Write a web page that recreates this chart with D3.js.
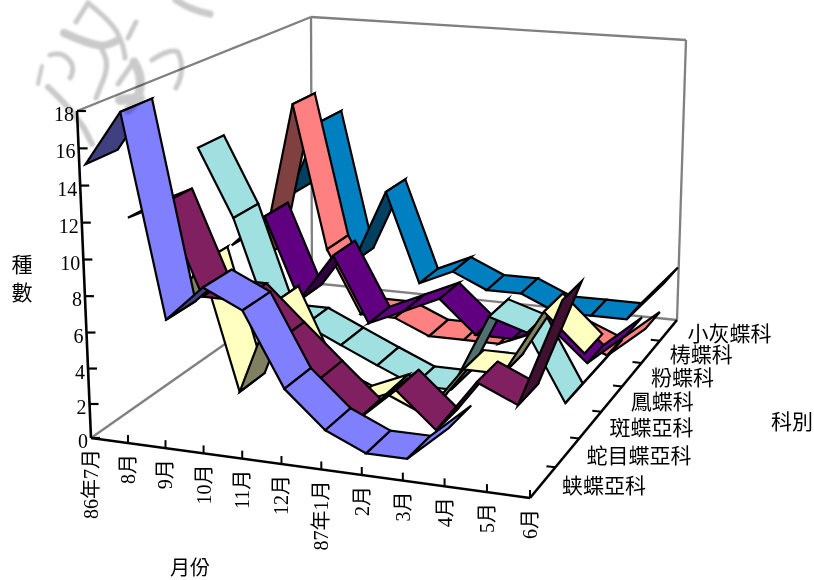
<!DOCTYPE html>
<html>
<head>
<meta charset="utf-8">
<script src="https://cdn.jsdelivr.net/npm/d3@7"></script>
<style>
  html, body { margin: 0; padding: 0; background: #fff; }
  svg { display: block; }
  text { fill: #000; font-family: "Liberation Serif", "Noto Sans CJK TC", serif; }
</style>
</head>
<body>
<svg id="chart" width="814" height="580"></svg>
<script>
// Butterfly species counted per month, one ribbon per family.
const months = ["86年7月","8月","9月","10月","11月","12月","87年1月","2月","3月","4月","5月","6月"];
const families = ["蛱蝶亞科","蛇目蝶亞科","斑蝶亞科","鳳蝶科","粉蝶科","梼蝶科","小灰蝶科"];
const yTicks = [0,2,4,6,8,10,12,14,16,18];

const nymphalinae = [15,18,7,9,8,4,2,1,1,3,null,null];
const satyrinae   = [11,12,7,7,5,3,1,3,1,4,3,9];
const danainae    = [4,7.5,0,5.6,1,0,1,0,3,3,6.8,4.7];
const papilionidae= [13,9,3,3,2,1,0,0,4.7,4,0,3];
const pieridae    = [6,8,3,6,2,3,4,2,2,3,1,3];
const family6     = [4,14,5,1,1,0,0,0,1,1,0,2];
const lycaenidae  = [7,12,3,7.8,2,3,2,2,1,1,1,3.6];
const seriesValues = [nymphalinae,satyrinae,danainae,papilionidae,pieridae,family6,lycaenidae];

const topColors   = ["#8080ff","#802060","#ffffc0","#a0e0e0","#600080","#ff8080","#0080c0"];
const underColors = ["#404080","#401030","#808060","#507070","#300040","#804040","#004060"];

const svg = d3.select("#chart");

// Box corners on screen: floor and ceiling, ordered front-left, front-right, back-right, back-left.
const floorQuad   = [[91,438],[530,498],[677,320],[312,283]];
const ceilingQuad = [[77,111],[535,154],[686,40],[311,17]];

// Projective map from the unit square onto a screen quadrilateral.
function quadMap(q) {
  const [[x0,y0],[x1,y1],[x2,y2],[x3,y3]] = q;
  const dx1=x1-x2, dx2=x3-x2, sx=x0-x1+x2-x3;
  const dy1=y1-y2, dy2=y3-y2, sy=y0-y1+y2-y3;
  const den=dx1*dy2-dx2*dy1;
  const g=(sx*dy2-dx2*sy)/den, h=(dx1*sy-sx*dy1)/den;
  const a=x1-x0+g*x1, b=x3-x0+h*x3, d=y1-y0+g*y1, e=y3-y0+h*y3;
  return (u,w) => {
    const k=g*u+h*w+1;
    return [(a*u+b*w+x0)/k,(d*u+e*w+y0)/k];
  };
}
const onFloor = quadMap(floorQuad), onCeiling = quadMap(ceilingQuad);
const monthScale  = d3.scaleLinear().domain([0,months.length-1]).range([0,1]);
const familyScale = d3.scaleLinear().domain([0,families.length]).range([0,1]);
const valueScale  = d3.scalePow().exponent(1.03).domain([0,18]).range([0,1]);

// month index, family depth and species count to a screen position
function project(m,s,v) {
  const u=monthScale(m), w=familyScale(s), t=valueScale(v);
  const a=onFloor(u,w), b=onCeiling(u,w);
  return [a[0]+(b[0]-a[0])*t, a[1]+(b[1]-a[1])*t];
}

const line = d3.line();

// Walls of the box
const wallPaths = [
  [[0,0,0],[0,7,0]], [[0,7,0],[11,7,0]], [[0,7,0],[0,7,18]],
  [[11,7,0],[11,7,18]], [[0,0,18],[0,7,18]], [[0,7,18],[11,7,18]]
];
svg.append("g").selectAll("path").data(wallPaths).join("path")
  .attr("d", d => line(d.map(p => project(...p))))
  .attr("fill","none").attr("stroke","#808080").attr("stroke-width",2.3);

// Ribbons, far family first, each drawn left to right. A segment shows its
// darker underside when it turns away on screen.
const ribbonGroup = svg.append("g");
d3.range(families.length-1,-1,-1).forEach(i => {
  const vals = seriesValues[i];
  const front = i+0.15, back = i+0.95;
  d3.range(months.length-1).forEach(m => {
    if (vals[m]==null || vals[m+1]==null) return;
    const quad = [project(m,front,vals[m]),project(m+1,front,vals[m+1]),
                  project(m+1,back,vals[m+1]),project(m,back,vals[m])];
    const under = d3.polygonArea(quad) < 0;
    ribbonGroup.append("path")
      .attr("d", line(quad)+"Z")
      .attr("fill", under ? underColors[i] : topColors[i])
      .attr("stroke","#000").attr("stroke-width",2.2)
      .attr("stroke-linejoin","miter").attr("stroke-miterlimit",6);
  });
});

// Axes
const axisGroup = svg.append("g").attr("fill","none").attr("stroke","#000");
const axisLines = [[[0,0,0],[0,0,18]],[[0,0,0],[11,0,0]],[[11,0,0],[11,7,0]]];
axisGroup.selectAll("path.axis").data(axisLines).join("path").attr("class","axis")
  .attr("d", d => line(d.map(p => project(...p)))).attr("stroke-width",2.6);

yTicks.forEach(v => {
  const [x,y] = project(0,0,v);
  axisGroup.append("path").attr("d",line([[x,y],[x+9,y]])).attr("stroke-width",2.2);
  svg.append("text").attr("x",x-3).attr("y",y+3).attr("dy",".35em")
    .attr("text-anchor","end").attr("font-size",20).text(v);
});
months.forEach((name,m) => {
  const [x,y] = project(m,0,0);
  if (m>0) axisGroup.append("path").attr("d",line([[x,y],[x,y-8]])).attr("stroke-width",2);
  svg.append("text").attr("transform",`translate(${x},${y+11}) rotate(-90)`)
    .attr("dy",".35em").attr("text-anchor","end").attr("font-size",20).text(name);
});
families.forEach((name,i) => {
  if (i>0) {
    const [x,y] = project(11,i,0);
    axisGroup.append("path").attr("d",line([[x,y],[x-9,y-1]])).attr("stroke-width",2);
  }
  const [cx,cy] = project(11,i+0.5,0);
  svg.append("text").attr("x",cx+19).attr("y",cy+3).attr("dy",".35em")
    .attr("font-size",21).text(name);
});

// Axis titles
svg.append("text").attr("x",190).attr("y",568).attr("dy",".35em")
  .attr("text-anchor","middle").attr("font-size",20).text("月份");
svg.append("text").attr("x",792).attr("y",422).attr("dy",".35em")
  .attr("text-anchor","middle").attr("font-size",21).text("科別");
["種","數"].forEach((ch,k) => {
  svg.append("text").attr("x",22).attr("y",265+k*28).attr("dy",".35em")
    .attr("text-anchor","middle").attr("font-size",21).text(ch);
});

// Faint brush-written stamp across the upper left corner
const defs = svg.append("defs");
defs.append("filter").attr("id","soft").append("feGaussianBlur").attr("stdDeviation",1.3);
const stampStrokes = [
  ["M88 3 L76 22",5],["M88 3 Q112 22 118 34 Q124 46 125 58",5],["M64 33 Q88 44 102 46 Q112 44 118 40",8],
  ["M136 22 L128 38",5],["M50 55 Q64 50 72 64 Q74 72 70 78",5],["M42 66 L38 84",4],
  ["M48 87 Q68 105 84 128 L92 144",6],["M102 50 Q110 62 104 78 L96 98",5],["M133 63 L118 84",5],
  ["M134 62 Q142 74 140 88 Q138 102 128 110",9],["M152 60 Q170 48 178 52 Q186 70 176 88",5],
  ["M176 0 Q190 10 210 14",7],["M120 100 L140 98",10]
];
svg.append("g").attr("filter","url(#soft)").style("mix-blend-mode","multiply")
  .selectAll("path").data(stampStrokes).join("path")
  .attr("d",d=>d[0]).attr("stroke-width",d=>d[1]).attr("fill","none")
  .attr("stroke","#cacaca").attr("stroke-linecap","round");
</script>
</body>
</html>
